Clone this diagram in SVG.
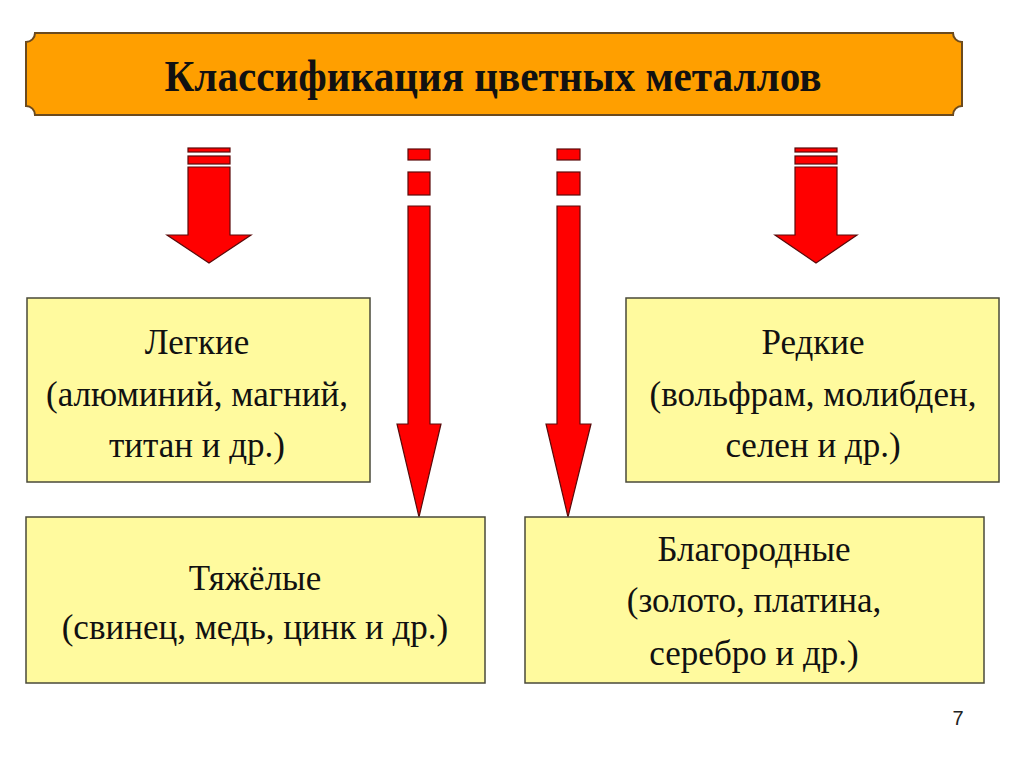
<svg xmlns="http://www.w3.org/2000/svg" width="1024" height="767" viewBox="0 0 1024 767">
<style>
.box{fill:#FFFA9E;stroke:#4a4a3a;stroke-width:1.5}
.arr{fill:#FF0000;stroke:#5a0a0a;stroke-width:1.2;stroke-linejoin:miter}
.t{font-family:"Liberation Serif","Times New Roman",serif;font-size:35px;fill:#111;text-anchor:middle}
.title{font-family:"Liberation Serif","Times New Roman",serif;font-size:45px;font-weight:bold;fill:#111;text-anchor:middle}
</style>
<rect width="1024" height="767" fill="#ffffff"/>
<g id="title">
<path d="M35,33 H953 A9,9 0 0 0 962,42 V106 A9,9 0 0 0 953,115 H35 A9,9 0 0 0 26,106 V42 A9,9 0 0 0 35,33 Z" fill="#FF9F00" stroke="#6B4A1E" stroke-width="2"/>
<text class="title" x="493" y="91" textLength="657" lengthAdjust="spacingAndGlyphs">Классификация цветных металлов</text>
</g>
<g id="connectors">
<g id="arrow-left">
<rect class="arr" x="188" y="148" width="42" height="4"/>
<rect class="arr" x="188" y="156" width="42" height="8"/>
<path class="arr" d="M188,167 H230 V235 H251 L209,263 L167,235 H188 Z"/>
</g>
<g id="arrow-mid-left">
<rect class="arr" x="408" y="149" width="22" height="11"/>
<rect class="arr" x="408" y="172" width="22" height="23"/>
<path class="arr" d="M408,206 H430 V424 H441 L419,517 L397,424 H408 Z"/>
</g>
<g id="arrow-mid-right">
<rect class="arr" x="557" y="149" width="23" height="11"/>
<rect class="arr" x="557" y="172" width="23" height="23"/>
<path class="arr" d="M557,206 H580 V424 H591 L568,517 L546,424 H557 Z"/>
</g>
<g id="arrow-right">
<rect class="arr" x="795" y="148" width="42" height="4"/>
<rect class="arr" x="795" y="156" width="42" height="8"/>
<path class="arr" d="M795,167 H837 V235 H857 L816,263 L775,235 H795 Z"/>
</g>
</g>
<g id="light">
<rect class="box" x="27" y="298" width="343" height="184"/>
<text class="t" x="197" y="354">Легкие</text>
<text class="t" x="197" y="406">(алюминий, магний,</text>
<text class="t" x="197" y="457">титан и др.)</text>
</g>
<g id="rare">
<rect class="box" x="626" y="298" width="373" height="184"/>
<text class="t" x="813" y="354">Редкие</text>
<text class="t" x="813" y="406">(вольфрам, молибден,</text>
<text class="t" x="813" y="457">селен и др.)</text>
</g>
<g id="heavy">
<rect class="box" x="26" y="517" width="459" height="166"/>
<text class="t" x="255" y="590">Тяжёлые</text>
<text class="t" x="255" y="639">(свинец, медь, цинк и др.)</text>
</g>
<g id="noble">
<rect class="box" x="525" y="517" width="459" height="166"/>
<text class="t" x="754" y="561">Благородные</text>
<text class="t" x="754" y="612">(золото, платина,</text>
<text class="t" x="754" y="665">серебро и др.)</text>
</g>
<text x="958" y="725" font-family="Liberation Sans, Arial, sans-serif" font-size="20" fill="#222" text-anchor="middle">7</text>
</svg>
